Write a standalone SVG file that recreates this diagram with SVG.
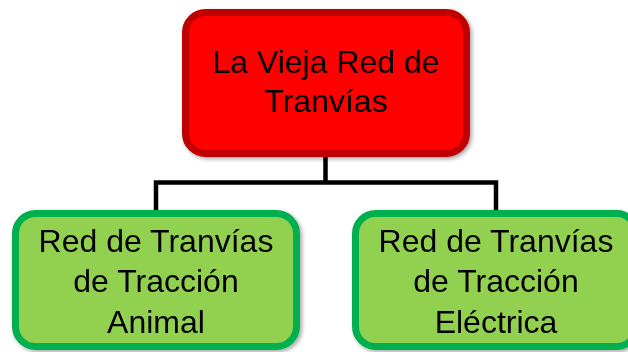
<svg xmlns="http://www.w3.org/2000/svg" width="628" height="352" viewBox="0 0 628 352">
  <defs>
    <filter id="sh" x="-10%" y="-10%" width="130%" height="130%">
      <feGaussianBlur in="SourceAlpha" stdDeviation="2"/>
      <feOffset dx="2" dy="2" result="b"/>
      <feComponentTransfer><feFuncA type="linear" slope="0.35"/></feComponentTransfer>
      <feMerge><feMergeNode/><feMergeNode in="SourceGraphic"/></feMerge>
    </filter>
  </defs>
  <style>
    .root { fill: #FF0000; stroke: #C00000; stroke-width: 7; }
    .leaf { fill: #92D050; stroke: #00B050; stroke-width: 7; }
    .lbl { font-family: "Liberation Sans", Arial, sans-serif; font-size: 32px; fill: #000; text-anchor: middle; }
    .conn { fill: none; stroke: #000; stroke-width: 4.5; stroke-linejoin: miter; }
  </style>
  <rect width="628" height="352" fill="#fff"/>
  <g id="connectors">
    <line class="conn" x1="325.5" y1="157" x2="325.5" y2="182.5"/>
    <polyline class="conn" points="156,211 156,182.5 496,182.5 496,211"/>
  </g>
  <g id="node-root" filter="url(#sh)">
    <rect class="root" x="185.5" y="12.5" width="281" height="141" rx="20" ry="20"/>
    <text class="lbl" x="326" y="73">La Vieja Red de</text>
    <text class="lbl" x="326" y="112">Tranvías</text>
  </g>
  <g id="node-animal" filter="url(#sh)">
    <rect class="leaf" x="15.5" y="213.5" width="281" height="133" rx="20" ry="20"/>
    <text class="lbl" x="156" y="252">Red de Tranvías</text>
    <text class="lbl" x="156" y="292">de Tracción</text>
    <text class="lbl" x="156" y="333">Animal</text>
  </g>
  <g id="node-electrica" filter="url(#sh)">
    <rect class="leaf" x="355.5" y="213.5" width="281" height="133" rx="20" ry="20"/>
    <text class="lbl" x="496" y="252">Red de Tranvías</text>
    <text class="lbl" x="496" y="292">de Tracción</text>
    <text class="lbl" x="496" y="333">Eléctrica</text>
  </g>
</svg>
